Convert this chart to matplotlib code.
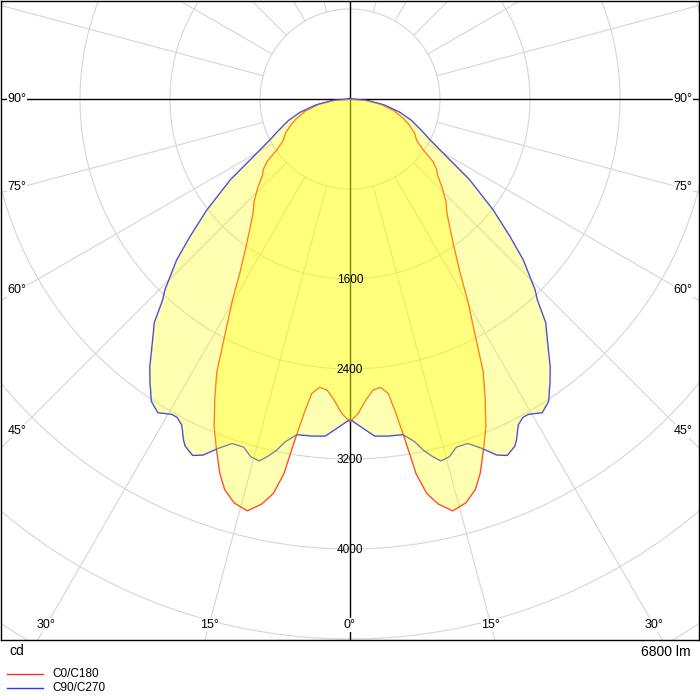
import numpy as np
import matplotlib
matplotlib.use("Agg")
import matplotlib.pyplot as plt
from matplotlib.lines import Line2D

# C0/C180 (curva roja): ángulo [°] e intensidad [cd]
c0_ang = [0, 1.5, 3, 4.5, 6, 7.4, 8.2, 9.0, 9.5, 10.0, 11.0, 12.3, 14.0, 16.0,
          17.8, 19.2, 20.8, 22.5, 24.2, 26.0, 28.0, 30.3, 32.3, 35.5, 40.2, 43,
          46, 49, 51, 53, 55, 58, 62, 66.8, 70, 75, 80, 85, 90]
c0_cd = [2870, 2795, 2680, 2595, 2577, 2638, 2795, 3009, 3180, 3380, 3570, 3685,
         3772, 3735, 3645, 3520, 3338, 3155, 2932, 2700, 2363, 2070, 1832, 1580,
         1335, 1250, 1140, 1030, 990, 920, 800, 700, 650, 565, 505, 405, 285, 145, 0]

# C90/C270 (curva azul)
c90_ang = [0, 2.3, 4.2, 6.5, 9.0, 10.7, 11.8, 13.0, 14.1, 15.5, 17.0, 18.9, 20.7,
           22.4, 23.8, 25.4, 26.0, 27.3, 28.5, 29.5, 31.5, 33.3, 35.1, 36.8, 38.3,
           40.0, 41.2, 43.0, 44.1, 47.1, 49.3, 52.2, 56.0, 58.6, 62.9, 66, 70.7,
           75, 80, 85, 90]
c90_cd = [2847, 2930, 3004, 3015, 3020, 3100, 3188, 3261, 3317, 3300, 3235, 3236,
          3320, 3422, 3463, 3415, 3374, 3260, 3220, 3220, 3270, 3215, 3090, 2970,
          2845, 2720, 2640, 2440, 2364, 2103, 1876, 1611, 1280, 1040, 800, 700,
          580, 460, 310, 155, 0]

ring_values = [800, 1600, 2400, 3200, 4000, 4800, 5600, 6400]
ring_labels = [1600, 2400, 3200, 4000]
side_angles = [90, 75, 60, 45]
bottom_angles = [30, 15, 0]
unit_text = "cd"
flux_text = "6800 lm"
series_names = ["C0/C180", "C90/C270"]
series_colors = ["#ff3030", "#3030ff"]

S = 0.1125          # px por cd
CX, CY = 350, 99    # centro en px
FONT = "Liberation Sans"


def px2data(x, y):
    return (x - CX) / S, (CY - y) / S


def curve(ang, cd):
    ang = np.array(ang, float)
    cd = np.array(cd, float)
    a = np.radians(np.concatenate([-ang[::-1], ang[1:]]))
    r = np.concatenate([cd[::-1], cd[1:]])
    return r * np.sin(a), -r * np.cos(a)


fig = plt.figure(figsize=(7, 7), dpi=100)
ax = fig.add_axes([1 / 700, 60 / 700, 698 / 700, 639 / 700])
ax.set_xlim((1 - CX) / S, (699 - CX) / S)
ax.set_ylim(-(640 - CY) / S, (CY - 1) / S)
ax.set_xticks([])
ax.set_yticks([])
for sp in ax.spines.values():
    sp.set_linewidth(1.0)
    sp.set_color("black")

# Rejilla
t = np.linspace(0, 2 * np.pi, 720)
for v in ring_values:
    ax.plot(v * np.cos(t), v * np.sin(t), color="#d6d6d6", lw=0.8, zorder=1)
for k in range(24):
    if k % 6 == 0:
        continue
    a = np.radians(k * 15)
    ax.plot([800 * np.sin(a), 9000 * np.sin(a)], [-800 * np.cos(a), -9000 * np.cos(a)],
            color="#d6d6d6", lw=0.8, zorder=1)
ax.axhline(0, color="black", lw=1.0, zorder=1.5)
ax.axvline(0, color="black", lw=1.0, zorder=1.5)

# Curvas
for ang, cd, col in [(c0_ang, c0_cd, series_colors[0]), (c90_ang, c90_cd, series_colors[1])]:
    x, y = curve(ang, cd)
    ax.plot(x, y, color=col, lw=1.0, zorder=2)
    ax.fill(x, y, color="#ffff00", alpha=0.3, lw=0, zorder=3)

# Etiquetas de anillos
for v in ring_labels:
    x, y = px2data(CX, CY + v * S + 1)
    ax.text(x, y, str(v), ha="center", va="center", fontsize=8.5, family=FONT, zorder=5)

# Etiquetas de ángulos
box = dict(facecolor="white", edgecolor="none", pad=0.6)
for th in side_angles:
    yp = CY if th == 90 else CY + 333 / np.tan(np.radians(th)) - 1
    for xp in (17, 683):
        x, y = px2data(xp, yp)
        ax.text(x, y, f"{th}°", ha="center", va="center", fontsize=9,
                family=FONT, bbox=box, zorder=6)
for th in bottom_angles:
    for sgn in ([-1, 1] if th else [1]):
        xp = CX + sgn * (625 - CY) * np.tan(np.radians(th))
        x, y = px2data(xp, 625)
        ax.text(x, y, f"{th}°", ha="center", va="center", fontsize=9,
                family=FONT, bbox=box, zorder=6)

# Textos inferiores y leyenda
fig.text(9 / 700, 1 - 651 / 700, unit_text, ha="left", va="center", fontsize=10, family=FONT)
fig.text(691 / 700, 1 - 652 / 700, flux_text, ha="right", va="center", fontsize=10, family=FONT)
for i, (name, col) in enumerate(zip(series_names, series_colors)):
    yf = 1 - (674 + 14 * i) / 700
    fig.add_artist(Line2D([7 / 700, 43 / 700], [yf, yf], color=col, lw=1.0))
    fig.text(52 / 700, yf, name, ha="left", va="center", fontsize=8.5, family=FONT)

fig.savefig("out.png", dpi=100)
